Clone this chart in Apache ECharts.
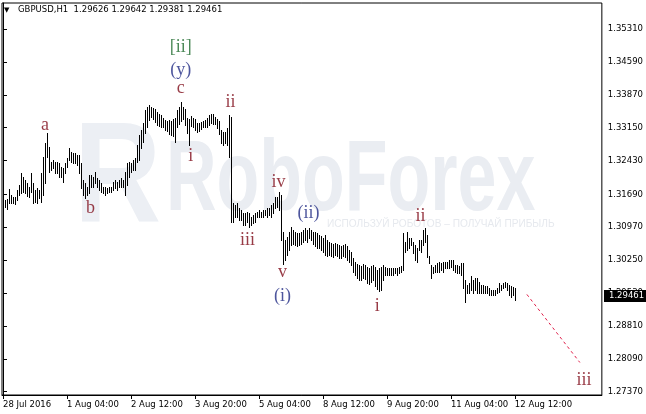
<!DOCTYPE html>
<html><head><meta charset="utf-8">
<script src="https://cdn.jsdelivr.net/npm/echarts@6/dist/echarts.min.js"></script>
<style>html,body{margin:0;padding:0;background:#fff}#c{width:646px;height:414px}</style>
</head><body><div id="c"></div>
<script>
// ---------- data ----------
const symbolTitle = 'GBPUSD,H1';
const lastOHLC = [1.29626, 1.29642, 1.29381, 1.29461];
const xTickIndex = [0, 32, 64, 96, 128, 160, 192, 224, 256];
const xTickLabels = ['28 Jul 2016', '1 Aug 04:00', '2 Aug 12:00', '3 Aug 20:00', '5 Aug 04:00', '8 Aug 12:00', '9 Aug 20:00', '11 Aug 04:00', '12 Aug 12:00'];
const yTickValues = [1.35310, 1.34590, 1.33870, 1.33150, 1.32430, 1.31690, 1.30970, 1.30250, 1.29530, 1.28810, 1.28090, 1.27370];
const highs = [
1.3159,1.3156,1.3159,1.3180,1.3167,1.3163,1.3163,1.3178,1.3189,1.3216,
1.3207,1.3200,1.3194,1.3185,1.3216,1.3194,1.3178,1.3183,1.3178,1.3216,
1.3251,1.3281,1.3303,1.3273,1.3240,1.3244,1.3240,1.3240,1.3237,1.3229,
1.3227,1.3237,1.3248,1.3270,1.3262,1.3259,1.3259,1.3255,1.3255,1.3237,
1.3200,1.3194,1.3185,1.3211,1.3211,1.3207,1.3218,1.3205,1.3200,1.3194,
1.3185,1.3185,1.3183,1.3185,1.3185,1.3196,1.3200,1.3196,1.3200,1.3205,
1.3200,1.3218,1.3237,1.3240,1.3237,1.3244,1.3248,1.3277,1.3299,1.3310,
1.3325,1.3354,1.3360,1.3365,1.3360,1.3358,1.3356,1.3349,1.3345,1.3343,
1.3336,1.3332,1.3330,1.3332,1.3330,1.3334,1.3336,1.3354,1.3360,1.3371,
1.3360,1.3356,1.3336,1.3334,1.3340,1.3336,1.3334,1.3325,1.3325,1.3327,
1.3330,1.3332,1.3336,1.3343,1.3345,1.3345,1.3338,1.3334,1.3330,1.3310,
1.3305,1.3305,1.3314,1.3343,1.3338,1.3150,1.3145,1.3150,1.3139,1.3134,
1.3128,1.3128,1.3130,1.3128,1.3119,1.3123,1.3128,1.3130,1.3134,1.3130,
1.3134,1.3134,1.3139,1.3139,1.3145,1.3150,1.3163,1.3163,1.3174,1.3167,
1.3086,1.3069,1.3075,1.3086,1.3097,1.3091,1.3086,1.3084,1.3084,1.3086,
1.3091,1.3095,1.3091,1.3095,1.3091,1.3086,1.3086,1.3084,1.3080,1.3077,
1.3073,1.3080,1.3069,1.3064,1.3062,1.3060,1.3062,1.3060,1.3058,1.3055,
1.3058,1.3060,1.3055,1.3047,1.3042,1.3029,1.3020,1.3016,1.3014,1.3012,
1.3016,1.3014,1.3009,1.3007,1.3012,1.3014,1.3009,1.3003,1.3007,1.3009,
1.3014,1.3009,1.3007,1.3007,1.3007,1.3007,1.3007,1.3007,1.3009,1.3012,
1.3084,1.3064,1.3086,1.3073,1.3073,1.3064,1.3058,1.3051,1.3069,1.3069,
1.3091,1.3095,1.3080,1.3034,1.3014,1.3009,1.3014,1.3018,1.3020,1.3018,
1.3020,1.3020,1.3020,1.3025,1.3025,1.3025,1.3014,1.3014,1.3012,1.3018,
1.3018,1.2981,1.2970,1.2974,1.2990,1.2981,1.2985,1.2985,1.2977,1.2970,
1.2970,1.2968,1.2968,1.2963,1.2959,1.2959,1.2959,1.2963,1.2974,1.2970,
1.2974,1.2977,1.2974,1.2970,1.2968,1.2966,1.29642
];
const lows = [
1.3137,1.3141,1.3137,1.3150,1.3150,1.3150,1.3148,1.3156,1.3167,1.3172,
1.3174,1.3172,1.3165,1.3163,1.3174,1.3150,1.3152,1.3150,1.3161,1.3152,
1.3167,1.3194,1.3251,1.3218,1.3222,1.3227,1.3216,1.3216,1.3207,1.3207,
1.3196,1.3216,1.3229,1.3244,1.3240,1.3237,1.3237,1.3233,1.3216,1.3183,
1.3167,1.3161,1.3167,1.3172,1.3185,1.3185,1.3194,1.3185,1.3178,1.3174,
1.3172,1.3167,1.3172,1.3174,1.3174,1.3178,1.3183,1.3178,1.3185,1.3185,
1.3185,1.3167,1.3189,1.3207,1.3218,1.3222,1.3222,1.3240,1.3244,1.3270,
1.3283,1.3303,1.3316,1.3332,1.3338,1.3334,1.3327,1.3321,1.3319,1.3316,
1.3316,1.3310,1.3308,1.3301,1.3299,1.3297,1.3283,1.3316,1.3323,1.3330,
1.3334,1.3321,1.3303,1.3277,1.3319,1.3316,1.3310,1.3305,1.3308,1.3312,
1.3316,1.3316,1.3316,1.3321,1.3325,1.3323,1.3323,1.3314,1.3301,1.3281,
1.3277,1.3281,1.3277,1.3251,1.3108,1.3108,1.3119,1.3119,1.3112,1.3112,
1.3102,1.3102,1.3108,1.3097,1.3102,1.3106,1.3108,1.3119,1.3119,1.3119,
1.3119,1.3123,1.3119,1.3123,1.3119,1.3128,1.3139,1.3141,1.3134,1.3069,
1.3016,1.3025,1.3036,1.3047,1.3058,1.3060,1.3058,1.3055,1.3058,1.3060,
1.3064,1.3069,1.3064,1.3073,1.3069,1.3060,1.3055,1.3051,1.3051,1.3047,
1.3042,1.3036,1.3034,1.3036,1.3034,1.3031,1.3036,1.3034,1.3029,1.3029,
1.3034,1.3031,1.3025,1.3020,1.3014,1.2998,1.2992,1.2985,1.2981,1.2981,
1.2985,1.2983,1.2974,1.2972,1.2977,1.2981,1.2968,1.2961,1.2957,1.2959,
1.2981,1.2992,1.2992,1.2992,1.2992,1.2992,1.2996,1.2992,1.2996,1.2998,
1.3003,1.3042,1.3047,1.3051,1.3058,1.3040,1.3025,1.3020,1.3047,1.3042,
1.3058,1.3064,1.3031,1.3018,1.2987,1.2996,1.2998,1.2998,1.2998,1.3003,
1.2998,1.3007,1.3007,1.3007,1.3009,1.3003,1.2998,1.2996,1.2996,1.2992,
1.2963,1.2933,1.2952,1.2952,1.2959,1.2952,1.2959,1.2952,1.2952,1.2952,
1.2952,1.2952,1.2952,1.2948,1.2948,1.2948,1.2948,1.2952,1.2955,1.2959,
1.2963,1.2966,1.2959,1.2948,1.2944,1.2948,1.29381
];
// projected path (bar index, price)
const projection = [[262, 1.2950], [288.5, 1.2801]];
// wave labels: text, bar index, price, degree
const waveLabels = [
  ['[ii]', 88.9, 1.3492, 'primary'],
  ['(y)', 88.9, 1.3441, 'intermediate'],
  ['c', 88.9, 1.3402, 'minor'],
  ['ii', 113.8, 1.3371, 'minor'],
  ['a', 21.0, 1.3321, 'minor'],
  ['i', 93.9, 1.3253, 'minor'],
  ['b', 43.8, 1.3139, 'minor'],
  ['iv', 137.8, 1.3196, 'minor'],
  ['iii', 122.3, 1.3069, 'minor'],
  ['(ii)', 152.8, 1.3128, 'intermediate'],
  ['v', 139.8, 1.2998, 'minor'],
  ['(i)', 139.8, 1.2946, 'intermediate'],
  ['ii', 208.8, 1.3120, 'minor'],
  ['i', 187.2, 1.2924, 'minor'],
  ['iii', 290.6, 1.2761, 'minor']
];

// ---------- styles ----------
const degreeColor = { primary: '#1F6B2E', intermediate: '#222C85', minor: '#7E0A18' };
const axisFont = { fontFamily: 'DejaVu Sans', fontSize: 8.5, color: '#000' };

const chart = echarts.init(document.getElementById('c'), null, { renderer: 'canvas' });

const option = {
  animation: false,
  backgroundColor: '#fff',
  grid: { left: 2, right: 43, top: 3, bottom: 19, show: true, borderColor: '#000', borderWidth: 1, backgroundColor: 'transparent' },
  xAxis: {
    type: 'value', min: -0.5, max: 299.5,
    splitLine: { show: false },
    axisLine: { show: true, onZero: false, lineStyle: { color: '#000', width: 1 } },
    axisTick: { show: true, customValues: xTickIndex, length: 4, lineStyle: { color: '#000' } },
    axisLabel: Object.assign({ customValues: xTickIndex, formatter: v => xTickLabels[xTickIndex.indexOf(v)], align: 'left', margin: 5, showMinLabel: true, showMaxLabel: true }, axisFont)
  },
  yAxis: {
    type: 'value', position: 'right', min: 1.27298, max: 1.35879,
    splitLine: { show: false },
    axisLine: { show: true, lineStyle: { color: '#000', width: 1 } },
    axisTick: { show: true, customValues: yTickValues, length: 4, lineStyle: { color: '#000' } },
    axisLabel: Object.assign({ customValues: yTickValues, formatter: v => v.toFixed(5), margin: 6, showMinLabel: true, showMaxLabel: true }, axisFont)
  },
  series: [
    {
      type: 'custom', silent: true, z: 3,
      data: highs.map((h, i) => [i, lows[i], h]),
      encode: { x: 0, y: [1, 2] },
      renderItem: (params, api) => {
        const i = api.value(0);
        const lo = api.coord([i, api.value(1)]);
        const hi = api.coord([i, api.value(2)]);
        const x = Math.round(lo[0]) + 0.5;
        return { type: 'line', shape: { x1: x, y1: Math.round(hi[1]), x2: x, y2: Math.round(lo[1]) + 1 }, style: { stroke: '#000', lineWidth: 1 } };
      }
    },
    {
      type: 'line', data: projection, symbol: 'none', silent: true, z: 4,
      lineStyle: { color: '#E0204A', width: 1, type: [3, 3] }
    },
    {
      type: 'scatter', silent: true, z: 5, symbolSize: 0,
      data: waveLabels.map(w => ({ value: [w[1], w[2]], label: { formatter: w[0], color: degreeColor[w[3]] } })),
      label: { show: true, position: 'inside', fontFamily: 'Liberation Serif', fontSize: 18 }
    }
  ]
};
chart.setOption(option);

const py = chart.convertToPixel({ yAxisIndex: 0 }, lastOHLC[3]);
chart.setOption({
  graphic: [
    { type: 'text', z: -10, x: 74, y: 182, scaleX: 0.85, style: { text: 'R', font: 'bold 142px "Liberation Sans"', fill: '#eceff4', verticalAlign: 'middle', textVerticalAlign: 'middle' } },
    { type: 'text', z: -10, x: 166, y: 182, scaleX: 0.7, style: { text: 'RoboForex', font: 'bold 100px "Liberation Sans"', fill: '#eaedf2', verticalAlign: 'middle', textVerticalAlign: 'middle' } },
    { type: 'text', z: -10, x: 327, y: 224, scaleX: 0.92, style: { text: 'ИСПОЛЬЗУЙ РОБОТОВ – ПОЛУЧАЙ ПРИБЫЛЬ', font: '11px "Liberation Sans"', fill: '#e6e9ee', verticalAlign: 'middle', textVerticalAlign: 'middle' } },
    { type: 'text', z: 10, x: 4, y: 10, style: { text: '▼', font: '7px "DejaVu Sans"', fill: '#000', verticalAlign: 'middle', textVerticalAlign: 'middle' } },
    { type: 'text', z: 10, x: 18, y: 10, style: { text: symbolTitle + '  ' + lastOHLC.map(v => v.toFixed(5)).join(' '), font: '8.5px "DejaVu Sans"', fill: '#000', verticalAlign: 'middle', textVerticalAlign: 'middle' } },
    { type: 'rect', z: 100, shape: { x: 604, y: Math.round(py) - 6, width: 42, height: 12 }, style: { fill: '#000' } },
    { type: 'text', z: 101, x: 609, y: Math.round(py), style: { text: lastOHLC[3].toFixed(5), font: '8.5px "DejaVu Sans"', fill: '#fff', verticalAlign: 'middle', textVerticalAlign: 'middle' } }
  ]
});
</script>
</body></html>
